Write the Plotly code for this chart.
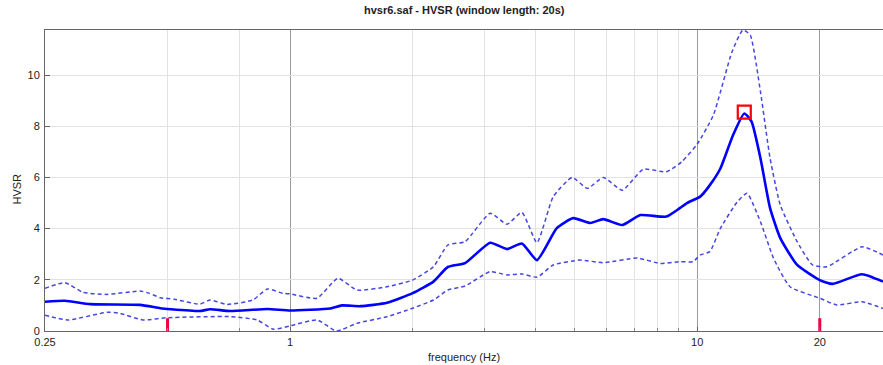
import numpy as np
import plotly.graph_objects as go

# Mean H/V spectral ratio
mean_freq = [0.25, 0.28, 0.323, 0.428, 0.48, 0.51, 0.60, 0.636, 0.712, 0.88, 1.0,
             1.254, 1.34, 1.486, 1.73, 2.0, 2.25, 2.44, 2.69, 3.10, 3.41, 3.71, 4.04,
             4.52, 4.96, 5.46, 5.88, 6.55, 7.25, 8.4, 9.06, 9.44, 10.17, 10.74, 11.4,
             12.25, 13.05, 13.6, 14.3, 15.1, 16.0, 17.6, 20.0, 21.5, 25.4, 28.6]
mean_hvsr = [1.14, 1.18, 1.05, 1.02, 0.89, 0.85, 0.78, 0.85, 0.78, 0.86, 0.80,
             0.88, 1.00, 0.97, 1.10, 1.48, 1.93, 2.50, 2.65, 3.45, 3.20, 3.42, 2.77,
             4.02, 4.41, 4.22, 4.37, 4.14, 4.53, 4.47, 4.80, 5.00, 5.25, 5.70, 6.35,
             7.66, 8.50, 8.18, 6.75, 4.80, 3.63, 2.58, 1.99, 1.84, 2.22, 1.93]

# Mean + one standard deviation
upper_freq = [0.25, 0.28, 0.31, 0.355, 0.428, 0.45, 0.48, 0.52, 0.60, 0.636, 0.70,
              0.81, 0.88, 0.96, 1.0, 1.165, 1.31, 1.46, 1.73, 2.0, 2.25, 2.44, 2.69,
              3.10, 3.41, 3.71, 4.04, 4.43, 4.93, 5.37, 5.88, 6.55, 7.37, 8.4, 9.16,
              10.0, 10.96, 12.17, 12.95, 13.5, 14.3, 15.1, 16.0, 17.6, 19.2, 20.8,
              25.4, 28.6]
upper_hvsr = [1.67, 1.89, 1.51, 1.43, 1.56, 1.48, 1.30, 1.24, 1.05, 1.21, 1.04,
              1.21, 1.64, 1.47, 1.45, 1.28, 2.06, 1.60, 1.73, 1.99, 2.51, 3.36, 3.49,
              4.60, 4.17, 4.63, 3.45, 5.25, 6.00, 5.57, 6.00, 5.50, 6.32, 6.22, 6.61,
              7.30, 8.44, 10.90, 11.76, 11.56, 9.35, 6.75, 4.92, 3.49, 2.58, 2.51,
              3.29, 2.97]

# Mean - one standard deviation
lower_freq = [0.25, 0.284, 0.355, 0.38, 0.435, 0.5, 0.712, 0.83, 0.91, 1.0,
              1.165, 1.30, 1.46, 1.73, 2.0, 2.25, 2.44, 2.69, 3.10, 3.41, 3.71,
              4.04, 4.43, 5.16, 5.88, 7.13, 8.1, 9.06, 9.77, 10.17, 10.74, 11.4,
              12.55, 13.25, 14.3, 15.4, 16.9, 20.0, 22.0, 25.4, 28.6]
lower_hvsr = [0.62, 0.43, 0.73, 0.70, 0.43, 0.52, 0.56, 0.43, 0.07, 0.20,
              0.43, 0.00, 0.30, 0.56, 0.89, 1.21, 1.60, 1.76, 2.32, 2.19, 2.23,
              2.10, 2.58, 2.77, 2.67, 2.85, 2.64, 2.71, 2.71, 2.97, 3.10, 4.01,
              5.05, 5.38, 4.27, 2.84, 1.73, 1.28, 1.02, 1.14, 0.88]

# Frequency-range limit markers and the picked peak
limit_freqs = [0.5, 20.0]
limit_height = 0.5
peak_freq = [13.05]
peak_hvsr = [8.55]

x_ticks = [0.25, 1, 10, 20]
x_tick_text = ["0.25", "1", "10", "20"]
x_minor = [0.5, 0.75, 2, 3, 4, 5, 6, 7, 8, 9]
y_ticks = [0, 2, 4, 6, 8, 10]

FONT = "Liberation Sans, Arial, sans-serif"
dash_color = "#4646E0"

fig = go.Figure()

for fr, val in ((upper_freq, upper_hvsr), (lower_freq, lower_hvsr)):
    fig.add_trace(go.Scatter(
        x=fr, y=val, mode="lines",
        line=dict(color=dash_color, width=1.5, dash="4px,3px",
                  shape="spline", smoothing=0.5),
        hoverinfo="skip", showlegend=False))

fig.add_trace(go.Scatter(
    x=mean_freq, y=mean_hvsr, mode="lines",
    line=dict(color="#0000FF", width=2.6, shape="spline", smoothing=0.5),
    showlegend=False))

for f in limit_freqs:
    fig.add_trace(go.Scatter(
        x=[f, f], y=[0, limit_height], mode="lines",
        line=dict(color="#F0003C", width=3),
        hoverinfo="skip", showlegend=False))

fig.add_trace(go.Scatter(
    x=peak_freq, y=peak_hvsr, mode="markers",
    marker=dict(symbol="square-open", size=13, color="#FF0000",
                line=dict(width=2.2, color="#FF0000")),
    showlegend=False))

fig.update_layout(
    width=883, height=365,
    margin=dict(l=45, r=0, t=30, b=34),
    paper_bgcolor="white", plot_bgcolor="white",
    font=dict(family=FONT, size=11, color="#222222"),
    annotations=[
        dict(text="<b>hvsr6.saf - HVSR (window length: 20s)</b>",
             xref="paper", yref="paper", x=0.5, y=1, yshift=20,
             xanchor="center", yanchor="middle",
             showarrow=False, font=dict(size=11, color="#222222")),
        dict(text="frequency (Hz)", xref="paper", yref="paper",
             x=0.5, y=0, yshift=-26, xanchor="center", yanchor="middle",
             showarrow=False, font=dict(size=11, color="#222222")),
        dict(text="HVSR", xref="paper", yref="paper", x=0, xshift=-28,
             y=0.47, xanchor="center", yanchor="middle", textangle=-90,
             showarrow=False, font=dict(size=11, color="#222222")),
    ],
)

fig.update_xaxes(
    type="log", range=[np.log10(0.25), np.log10(28.6)],
    tickmode="array", tickvals=x_ticks, ticktext=x_tick_text,
    ticks="inside", ticklen=4, tickcolor="#666666",
    showline=True, linecolor="#666666", linewidth=1, mirror=True,
    showgrid=True, gridcolor="#9A9A9A", gridwidth=1,
    minor=dict(tickmode="array", tickvals=x_minor, showgrid=True,
               gridcolor="#E2E2E2", ticks="inside", ticklen=3,
               tickcolor="#888888"),
    zeroline=False, ticklabelstandoff=1,
)

fig.update_yaxes(
    range=[0, 11.76], tickmode="array", tickvals=y_ticks,
    ticks="inside", ticklen=5, tickcolor="#666666",
    showline=True, linecolor="#666666", linewidth=1, mirror=False,
    showgrid=True, gridcolor="#E2E2E2", gridwidth=1,
    zeroline=False, ticklabelstandoff=2,
)

fig.write_html("out.html")
